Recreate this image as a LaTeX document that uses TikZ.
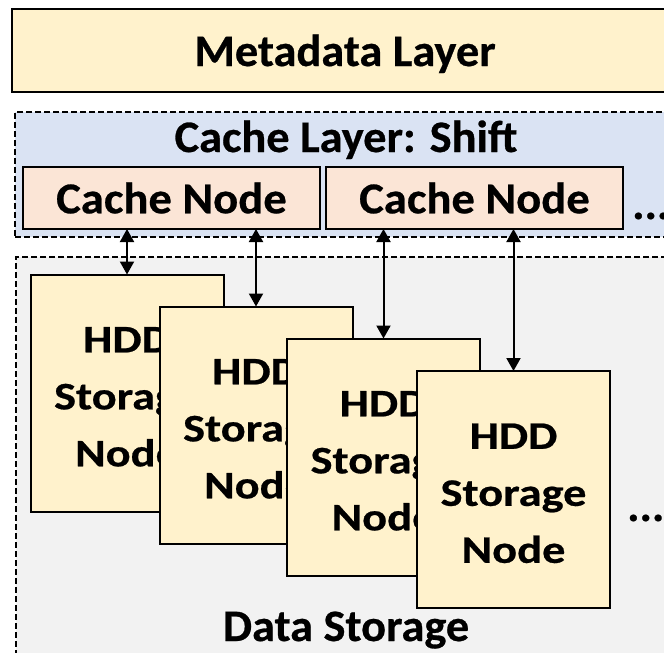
\documentclass[tikz,border=0pt]{standalone}
\usepackage{fontspec}
\newfontfamily\layerfont[FakeStretch=1.03,FakeBold=0.6]{Carlito}
\newfontfamily\cachefont[FakeStretch=1.06,FakeBold=0.6]{Carlito}
\newfontfamily\hddfont[FakeStretch=1.19,FakeBold=0.6]{Carlito}
\usetikzlibrary{arrows.meta}
\definecolor{yellowfill}{HTML}{FFF2CC}
\definecolor{bluefill}{HTML}{DAE3F3}
\definecolor{orangefill}{HTML}{FBE5D6}
\definecolor{grayfill}{HTML}{F2F2F2}
% three-line label of a storage node, with a taller first line
\newcommand\hddlabel{\rule{0pt}{33pt}HDD\\Storage\\Node}
\begin{document}
\begin{tikzpicture}[x=1pt,y=-1pt,
  layerlbl/.style={font=\layerfont\bfseries\fontsize{45}{54}\selectfont, inner sep=0pt},
  solidbox/.style={draw=black, line width=2pt, inner sep=0pt, outer sep=0pt},
  dashbox/.style={draw=black, line width=1.5pt, dash pattern=on 6pt off 3pt, inner sep=0pt, outer sep=0pt},
  cachebox/.style={solidbox, font=\cachefont\bfseries\fontsize{44}{53}\selectfont, fill=orangefill, minimum width=297pt, minimum height=62pt},
  hddbox/.style={solidbox, font=\hddfont\bfseries\fontsize{39}{57}\selectfont, fill=yellowfill, minimum width=193pt, minimum height=237pt, align=center},
  link/.style={line width=2pt, {Triangle[width=14pt,length=13pt]}-{Triangle[width=14pt,length=13pt]}}
]
\useasboundingbox (0,0) rectangle (664,653);
\clip (0,0) rectangle (664,653);

% metadata layer
\node[solidbox, fill=yellowfill, anchor=north west, minimum width=674pt, minimum height=83pt] (meta) at (12,9) {};
\node[layerlbl, anchor=base] (metatext) at (345,66) {Metadata Layer};

% cache layer
\node[dashbox, fill=bluefill, anchor=north west, minimum width=666pt, minimum height=125pt] (cache) at (15,112) {};
\node[layerlbl, anchor=base] (cachetext) at (346,152) {Cache Layer: Shift};
\node[cachebox] (c1) at (171.5,198) {Cache Node};
\node[cachebox] (c2) at (474.5,198) {Cache Node};
\node[layerlbl, anchor=base west] (cdots) at (632,219) {...};

% data storage
\node[dashbox, fill=grayfill, anchor=north west, minimum width=660pt, minimum height=420pt] (data) at (16,257) {};
\node[layerlbl, anchor=base] (datatext) at (346,641) {Data Storage};

% storage nodes, back to front
\node[hddbox] (h1) at (127,393) {\hddlabel};
\node[hddbox] (h2) at (256,425) {\hddlabel};
\node[hddbox] (h3) at (383.5,457) {\hddlabel};
\node[hddbox] (h4) at (513.5,489.5) {\hddlabel};
\node[layerlbl, anchor=base west] (ddots) at (627,521) {...};

% links between cache nodes and storage nodes
\draw[link] (h1.north |- c1.south) -- (h1.north);
\draw[link] (h2.north |- c1.south) -- (h2.north);
\draw[link] (h3.north |- c2.south) -- (h3.north);
\draw[link] (h4.north |- c2.south) -- (h4.north);
\end{tikzpicture}
\end{document}
